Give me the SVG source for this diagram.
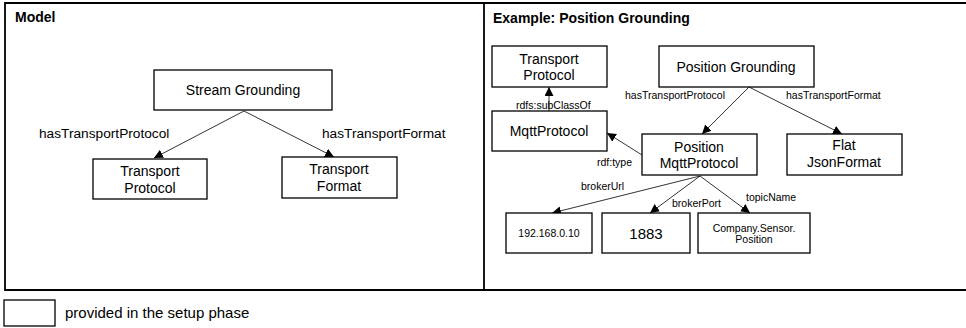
<svg xmlns="http://www.w3.org/2000/svg" width="966" height="328" viewBox="0 0 966 328">
<style>
text{font-family:"Liberation Sans",Arial,sans-serif;fill:#000}
.box{fill:#fff;stroke:#000;stroke-width:1.3}
.frame{fill:none;stroke:#000;stroke-width:1.8}
.t13{font-size:14px;text-anchor:middle}
.t11{font-size:10.5px;text-anchor:middle}
.lbl{font-size:13.7px}
.lbls{font-size:10.5px}
.title{font-size:14px;font-weight:bold}
.con{stroke:#000;stroke-width:0.8;fill:none;marker-end:url(#ah)}
</style>
<defs>
<marker id="ah" viewBox="0 0 10 10" refX="10" refY="5" markerWidth="9" markerHeight="9" markerUnits="userSpaceOnUse" orient="auto">
<path d="M0,0 L10,5 L0,10 z" fill="#000"/>
</marker>
</defs>
<rect width="966" height="328" fill="#fff"/>
<g id="frames">
<path class="frame" d="M966,3 H5 V290 H966 M484,3 V290"/>
<text class="title" x="15" y="22">Model</text>
<text class="title" x="493" y="23">Example: Position Grounding</text>
</g>
<g id="connectors">
<line class="con" x1="244" y1="111" x2="154" y2="158"/>
<line class="con" x1="244" y1="111" x2="334" y2="157"/>
<line class="con" x1="549" y1="111" x2="549" y2="87"/>
<line class="con" x1="749" y1="87" x2="702" y2="134"/>
<line class="con" x1="749" y1="87" x2="842" y2="134"/>
<line class="con" x1="642" y1="155" x2="607" y2="133"/>
<line class="con" x1="700" y1="176" x2="552" y2="213"/>
<line class="con" x1="700" y1="176" x2="650" y2="213"/>
<line class="con" x1="700" y1="176" x2="750" y2="213"/>
<text class="lbl" x="39" y="138">hasTransportProtocol</text>
<text class="lbl" x="322" y="138">hasTransportFormat</text>
<text class="lbls" x="516" y="109">rdfs:subClassOf</text>
<text class="lbls" x="625" y="99">hasTransportProtocol</text>
<text class="lbls" x="786" y="99">hasTransportFormat</text>
<text class="lbls" x="597" y="166">rdf:type</text>
<text class="lbls" x="581" y="190">brokerUrl</text>
<text class="lbls" x="672" y="207">brokerPort</text>
<text class="lbls" x="746" y="201">topicName</text>
</g>
<g id="stream-grounding">
<rect class="box" x="154" y="70" width="178" height="40"/>
<text class="t13" x="243" y="95">Stream Grounding</text>
</g>
<g id="transport-protocol">
<rect class="box" x="93" y="159" width="114" height="40"/>
<text class="t13" x="150" y="176">Transport</text>
<text class="t13" x="150" y="193">Protocol</text>
</g>
<g id="transport-format">
<rect class="box" x="282" y="157" width="115" height="41"/>
<text class="t13" x="339" y="174">Transport</text>
<text class="t13" x="339" y="191">Format</text>
</g>
<g id="ex-transport-protocol">
<rect class="box" x="492" y="46" width="115" height="41"/>
<text class="t13" x="549" y="64">Transport</text>
<text class="t13" x="549" y="80">Protocol</text>
</g>
<g id="position-grounding">
<rect class="box" x="659" y="46" width="155" height="41"/>
<text class="t13" x="736" y="72">Position Grounding</text>
</g>
<g id="mqtt-protocol">
<rect class="box" x="492" y="111" width="115" height="40"/>
<text class="t13" x="549" y="136">MqttProtocol</text>
</g>
<g id="position-mqtt-protocol">
<rect class="box" x="642" y="134" width="115" height="41"/>
<text class="t13" x="699" y="152">Position</text>
<text class="t13" x="699" y="168">MqttProtocol</text>
</g>
<g id="flat-json-format">
<rect class="box" x="787" y="134" width="115" height="41"/>
<text class="t13" x="844" y="150">Flat</text>
<text class="t13" x="844" y="167">JsonFormat</text>
</g>
<g id="broker-url">
<rect class="box" x="506" y="213" width="86" height="40"/>
<text class="t11" x="549" y="237">192.168.0.10</text>
</g>
<g id="broker-port">
<rect class="box" x="602" y="213" width="88" height="40"/>
<text class="t13" x="646" y="239" style="font-size:15px">1883</text>
</g>
<g id="topic-name">
<rect class="box" x="698" y="213" width="112" height="40"/>
<text class="t11" x="754" y="232">Company.Sensor.</text>
<text class="t11" x="754" y="243">Position</text>
</g>
<g id="legend">
<rect class="box" x="4" y="300" width="51" height="26"/>
<text class="lbl" x="65" y="318" style="font-size:15px">provided in the setup phase</text>
</g>
</svg>
